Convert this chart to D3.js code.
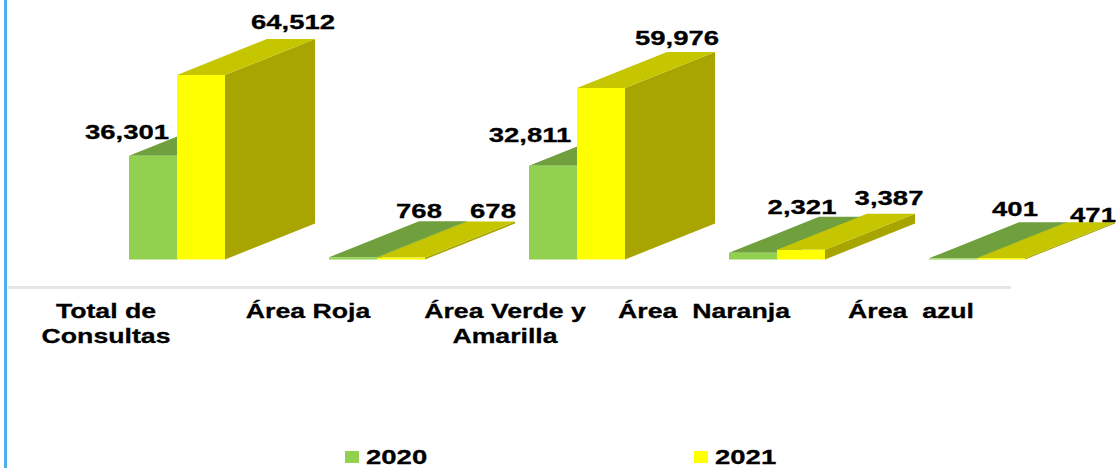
<!DOCTYPE html>
<html><head><meta charset="utf-8">
<script src="https://cdn.jsdelivr.net/npm/d3@7"></script>
<style>html,body{margin:0;padding:0;background:#fff}svg{display:block}text{font-family:"Liberation Sans",Arial,sans-serif;font-weight:bold;fill:#000;stroke:#000;stroke-width:.3px}</style>
</head><body><svg id="c" width="1117" height="468"></svg>
<script>
const categories = ["Total de Consultas","Área Roja","Área Verde y Amarilla","Área  Naranja","Área  azul"];
const series = ["2020","2021"];
const values2020 = [36301,768,32811,2321,401];
const values2021 = [64512,678,59976,3387,471];
const tickLines = [["Total de","Consultas"],["Área Roja"],["Área Verde y","Amarilla"],["Área  Naranja"],["Área  azul"]];

// layout only
const W=1117,H=468, depthX=90, depthY=36, hStretch=1.31;
const colors={ "2020":{front:"#92D050",top:"#6FA03C",side:"#5F8A33"}, "2021":{front:"#FFFF00",top:"#C6C600",side:"#A8A400"} };
const labelOffsets={ "2020":[[-2,-18],[90,-40],[1,-25],[73,-40],[86,-43]], "2021":[[116,-47],[116,-41],[100,-44],[112,-46],[116,-37]] };
const catOffsets=[-70,-68,-71,-72,-65];

const svg=d3.select("#c");
svg.append("defs").append("filter").attr("id","soft").attr("x","-5%").attr("y","-5%").attr("width","110%").attr("height","110%")
  .append("feGaussianBlur").attr("stdDeviation",0.35);

const x=d3.scalePoint().domain(categories).range([129,929]);
const sub=d3.scaleBand().domain(series).range([0,96]);
const y=d3.scaleLinear().domain([0,64512]).range([259.5,75]);
const valuesBy={"2020":values2020,"2021":values2021};

svg.append("rect").attr("x",4).attr("y",0).attr("width",3).attr("height",H).attr("fill","#4FAEEA");
svg.append("rect").attr("x",8).attr("y",286).attr("width",1003).attr("height",3).attr("fill","#E6E6E6");

const marks=svg.append("g").attr("filter","url(#soft)");
categories.forEach((c,i)=>{
  series.forEach(s=>{
    const x0=x(c)+sub(s), x1=x0+sub.bandwidth(), y0=y(0), yt=y(valuesBy[s][i]);
    const g=marks.append("g");
    const poly=(pts,fill)=>g.append("polygon").attr("points",pts.map(p=>p.join(",")).join(" ")).attr("fill",fill);
    poly([[x1,y0],[x1+depthX,y0-depthY],[x1+depthX,yt-depthY],[x1,yt]],colors[s].side);
    poly([[x0,yt],[x1,yt],[x1+depthX,yt-depthY],[x0+depthX,yt-depthY]],colors[s].top);
    g.append("rect").attr("x",x0).attr("y",yt).attr("width",x1-x0).attr("height",y0-yt).attr("fill",colors[s].front);
  });
});

const stretched=(px,py,str,size,sx)=>svg.append("text")
  .attr("transform",`translate(${px},${py}) scale(${sx},1)`)
  .attr("text-anchor","middle").attr("font-size",size).style("white-space","pre").text(str);

const fmt=d3.format(",");
series.forEach(s=>{
  categories.forEach((c,i)=>{
    const v=valuesBy[s][i], o=labelOffsets[s][i];
    stretched(x(c)+sub(s)+o[0], y(v)+o[1]+1, fmt(v), 21, hStretch);
  });
});

categories.forEach((c,i)=>{
  tickLines[i].forEach((l,j)=>{
    stretched(x(c)+sub.bandwidth()+catOffsets[i]-1, 318+j*25, l, 21, 1.27);
  });
});

const legendX=d3.scaleOrdinal().domain(series).range([345,694]);
series.forEach(s=>{
  svg.append("rect").attr("x",legendX(s)).attr("y",451).attr("width",14).attr("height",12).attr("fill",colors[s].front);
  svg.append("text").attr("transform",`translate(${legendX(s)+21},464) scale(1.31,1)`).attr("font-size",21).text(s);
});
</script></body></html>
